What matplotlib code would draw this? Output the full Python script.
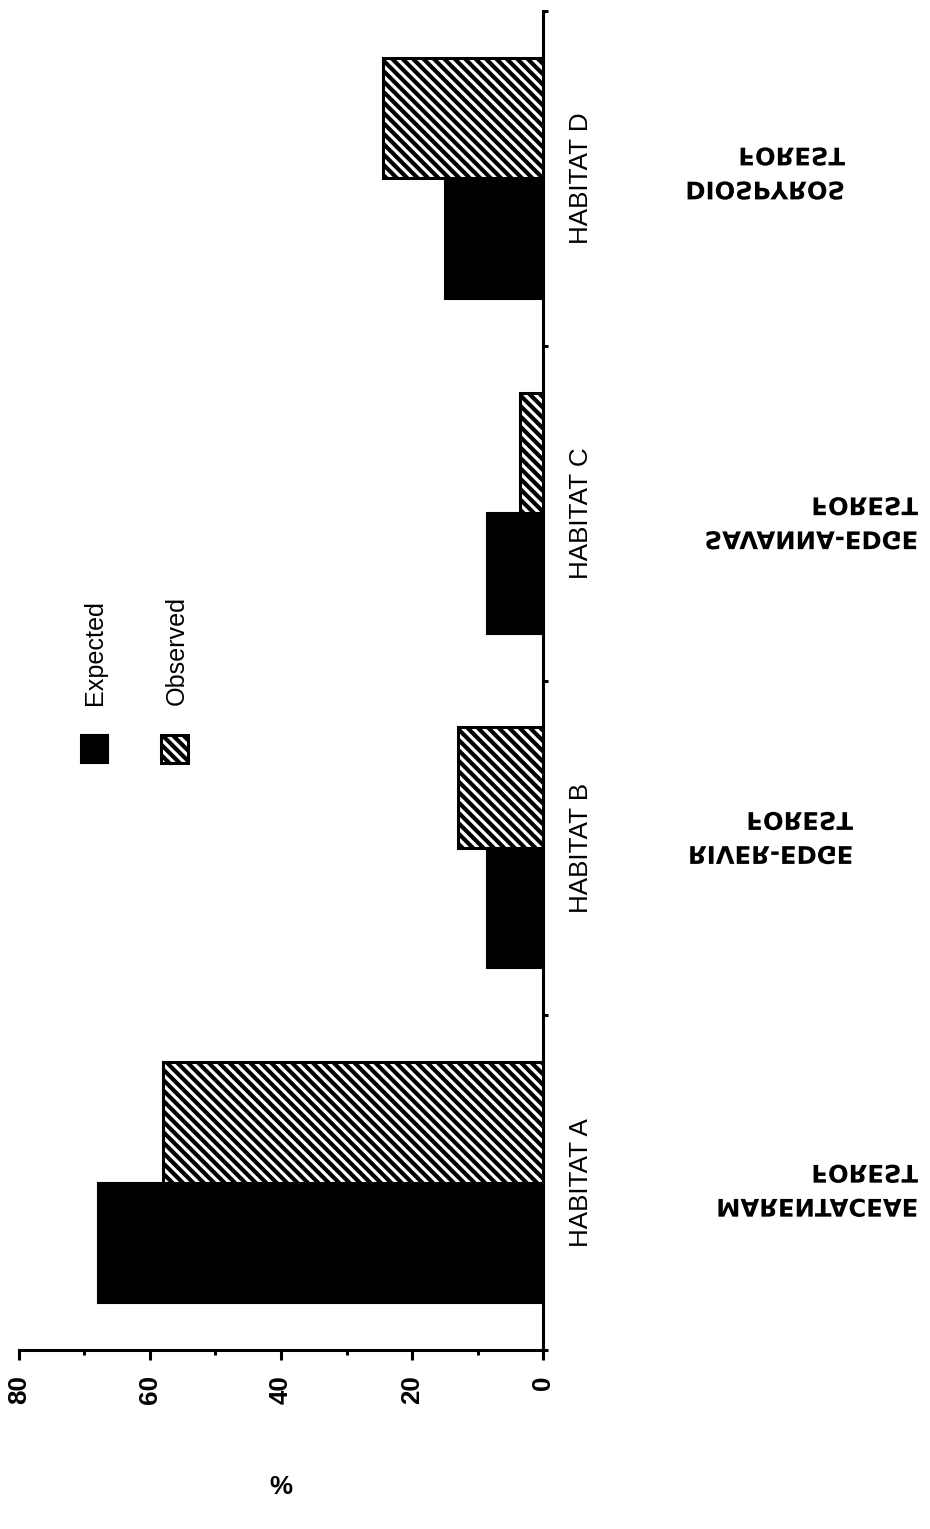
import matplotlib
matplotlib.use("Agg")
import matplotlib.pyplot as plt
import numpy as np
from matplotlib.patches import Rectangle
from matplotlib.patheffects import AbstractPathEffect
from matplotlib.transforms import Affine2D, blended_transform_factory, ScaledTranslation
from matplotlib.ticker import FixedLocator, MultipleLocator

# ---- data -------------------------------------------------------------
habitats = ["HABITAT A", "HABITAT B", "HABITAT C", "HABITAT D"]
forest_names = ["MARENTACEAE", "RIVER-EDGE", "SAVANNA-EDGE", "DIOSPYROS"]
forest_word = "FOREST"
expected = [68, 8.5, 8.5, 15]
observed = [58, 13, 3.5, 24.5]
value_ticks = [0, 20, 40, 60, 80]
series_names = ["Expected", "Observed"]

# ---- layout -----------------------------------------------------------
DPI = 125
W, H = 930, 1529
AX_L, AX_R, AX_T, AX_B = 19, 543, 11, 1350      # axes box in pixels
forest_right_px = [918, 853, 918, 845]           # right edge of habitat names
forest_line_px = [0, -18, 2, -13]                # baseline of "FOREST" below category centre
LINE_GAP = 34
HATCH = "\\\\\\\\"
HATCH_LW = 2.4


class VerticalMirror(AbstractPathEffect):
    """Draw glyphs mirrored top-to-bottom about the middle of each line."""

    def draw_path(self, renderer, gc, tpath, affine, rgbFace=None):
        ext = tpath.get_extents()
        cy = 0.5 * (ext.y0 + ext.y1)
        flip = Affine2D().translate(0, -cy).scale(1, -1).translate(0, cy)
        renderer.draw_path(gc, tpath, flip + affine, rgbFace)


plt.rcParams["font.family"] = ["Liberation Sans", "DejaVu Sans"]
plt.rcParams["hatch.linewidth"] = HATCH_LW
plt.rcParams["hatch.color"] = "black"

fig = plt.figure(figsize=(W / DPI, H / DPI), dpi=DPI)
ax = fig.add_axes([AX_L / W, 1 - AX_B / H, (AX_R - AX_L) / W, (AX_B - AX_T) / H])


def ax_x(px):
    return (px - AX_L) / (AX_R - AX_L)


def ax_y(py):
    return (AX_B - py) / (AX_B - AX_T)


def thick_hatch(patch):
    if hasattr(patch, "set_hatch_linewidth"):
        patch.set_hatch_linewidth(HATCH_LW)


ypos = np.arange(len(habitats))
bh = 0.36
LW = 1.75

ax.barh(ypos - bh / 2, expected, height=bh, color="black",
        edgecolor="black", linewidth=1.2)
obs_bars = ax.barh(ypos + bh / 2, observed, height=bh, facecolor="white",
                   edgecolor="black", linewidth=LW, hatch=HATCH)
for p in obs_bars:
    thick_hatch(p)

ax.set_xlim(80, 0)
ax.set_ylim(-0.5, len(habitats) - 0.5)

for side in ("left", "top"):
    ax.spines[side].set_visible(False)
for side in ("right", "bottom"):
    ax.spines[side].set_linewidth(LW)

ax.xaxis.set_major_locator(FixedLocator(value_ticks))
ax.xaxis.set_minor_locator(MultipleLocator(10))
ax.set_xticklabels([str(v) for v in value_ticks], fontweight="bold")
ax.tick_params(axis="x", which="major", direction="out", length=5.5,
               width=LW, labelsize=15, labelrotation=90, pad=9)
ax.tick_params(axis="x", which="minor", direction="out", length=3, width=LW)

ax.yaxis.set_major_locator(FixedLocator(np.arange(-0.5, len(habitats), 1.0)))
ax.tick_params(axis="y", which="both", left=False, right=True,
               labelleft=False, labelright=False, direction="out",
               length=3, width=LW)

ax.set_xlabel("%", fontsize=15, fontweight="bold")
ax.xaxis.set_label_coords(0.5, ax_y(1475))

trans = blended_transform_factory(ax.transAxes, ax.transData)

# category labels along the axis
for i, name in enumerate(habitats):
    ax.text(ax_x(581), ypos[i], name, transform=trans, rotation=90,
            ha="center", va="center", fontsize=15)

# mirrored habitat descriptions
mirror = [VerticalMirror()]
for i, name in enumerate(forest_names):
    xa = ax_x(forest_right_px[i])
    for line, off in ((forest_word, forest_line_px[i]),
                      (name, forest_line_px[i] + LINE_GAP)):
        t = trans + ScaledTranslation(0, -off / DPI, fig.dpi_scale_trans)
        ax.text(xa, ypos[i], line, transform=t, ha="right", va="baseline",
                fontsize=14, fontweight="bold", family="DejaVu Sans",
                path_effects=mirror, clip_on=False)

# legend keys
key_w, key_h = 27 / (AX_R - AX_L), 28 / (AX_B - AX_T)
ax.add_patch(Rectangle((ax_x(81), ax_y(763)), key_w, key_h,
                       transform=ax.transAxes, facecolor="black",
                       edgecolor="black", linewidth=1.2, clip_on=False))
key = Rectangle((ax_x(161), ax_y(763)), key_w, key_h,
                transform=ax.transAxes, facecolor="white",
                edgecolor="black", linewidth=LW, hatch=HATCH, clip_on=False)
thick_hatch(key)
ax.add_patch(key)
ax.text(ax_x(95), ax_y(705), series_names[0], transform=ax.transAxes,
        rotation=90, ha="center", va="bottom", fontsize=14.5)
ax.text(ax_x(177), ax_y(705), series_names[1], transform=ax.transAxes,
        rotation=90, ha="center", va="bottom", fontsize=14.5)

fig.savefig("out.png", dpi=DPI)
